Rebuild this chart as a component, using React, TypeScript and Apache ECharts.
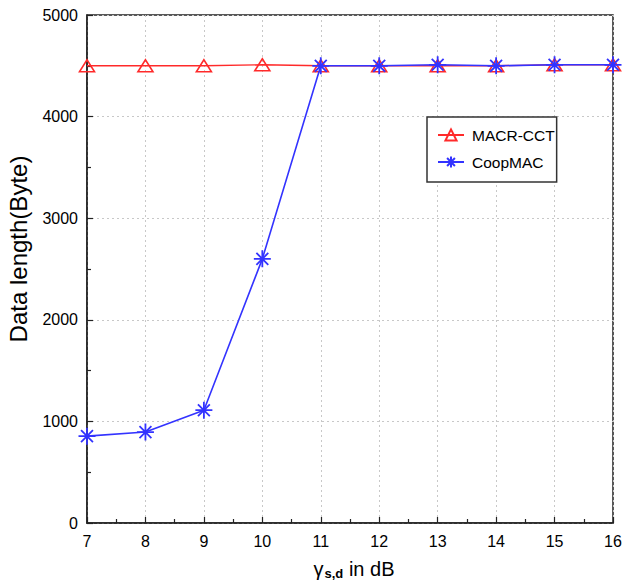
import React, { useEffect, useRef } from "react";
import * as echarts from "echarts";

const xValues = [7, 8, 9, 10, 11, 12, 13, 14, 15, 16];
const macrCct = [4500, 4500, 4500, 4510, 4500, 4500, 4500, 4500, 4510, 4510];
const coopMac = [855, 895, 1110, 2600, 4500, 4500, 4510, 4500, 4510, 4510];
const seriesNames = ["MACR-CCT", "CoopMAC"];
const yTitle = "Data length(Byte)";

const FONT = "'Liberation Sans', Arial, Helvetica, sans-serif";
const ASTERISK = "path://M0 10 L20 10 M10 0 L10 20 M3 3 L17 17 M17 3 L3 17";

export default function App() {
  const ref = useRef<HTMLDivElement>(null);
  useEffect(() => {
    if (!ref.current) return;
    const chart = echarts.init(ref.current, undefined, { renderer: "svg" });
    chart.setOption({
      animation: false,
      backgroundColor: "#ffffff",
      textStyle: { fontFamily: FONT },
      grid: {
        left: 87,
        right: 14,
        top: 15,
        bottom: 63,
        show: true,
        borderColor: "#222",
        borderWidth: 1.5,
      },
      graphic: [
        {
          type: "text",
          x: 18,
          y: 249,
          rotation: Math.PI / 2,
          style: {
            text: yTitle,
            fontSize: 24,
            fontFamily: FONT,
            fill: "#000",
            align: "center",
            verticalAlign: "middle",
          },
        },
      ],
      legend: {
        orient: "vertical",
        left: 427,
        top: 117,
        data: seriesNames,
        backgroundColor: "#fff",
        borderColor: "#333",
        borderWidth: 1.5,
        borderRadius: 0,
        padding: [10, 2, 12, 10],
        itemGap: 11,
        itemWidth: 26,
        itemHeight: 14,
        textStyle: { fontSize: 15.5, color: "#000", fontFamily: FONT, padding: [0, 0, 0, 3] },
      },
      xAxis: {
        type: "value",
        min: 7,
        max: 16,
        interval: 1,
        name: "{g|γ}{sub|s,d}{t| in dB}",
        nameLocation: "middle",
        nameGap: 34,
        nameTextStyle: {
          fontFamily: FONT,
          color: "#000",
          padding: [0, 0, 0, 8],
          rich: {
            g: { fontSize: 20, color: "#000", fontFamily: FONT },
            sub: { fontSize: 13, fontWeight: "bold", color: "#000", fontFamily: FONT, padding: [10, 0, 0, 1] },
            t: { fontSize: 20, color: "#000", fontFamily: FONT },
          },
        },
        axisLine: { show: true, lineStyle: { color: "#222", width: 1.5 } },
        axisTick: { show: true, inside: true, length: 6, lineStyle: { color: "#222", width: 1.2 } },
        minorTick: { show: true, splitNumber: 2, length: 4, lineStyle: { color: "#222", width: 1.2 } },
        axisLabel: { fontSize: 16, color: "#000", margin: 10, fontFamily: FONT },
        splitLine: { show: true, lineStyle: { color: "#c8c8c8", type: [2, 3], width: 1 } },
      },
      yAxis: {
        type: "value",
        min: 0,
        max: 5000,
        interval: 1000,
        axisLine: { show: true, lineStyle: { color: "#222", width: 1.5 } },
        axisTick: { show: true, inside: true, length: 6, lineStyle: { color: "#222", width: 1.2 } },
        minorTick: { show: true, splitNumber: 2, length: 4, lineStyle: { color: "#222", width: 1.2 } },
        axisLabel: {
          fontSize: 16,
          color: "#000",
          margin: 9,
          fontFamily: FONT,
          formatter: (v: number) => String(v),
        },
        splitLine: { show: true, lineStyle: { color: "#c8c8c8", type: [2, 3], width: 1 } },
      },
      series: [
        {
          name: seriesNames[0],
          type: "line",
          data: xValues.map((x, i) => [x, macrCct[i]]),
          symbol: "triangle",
          symbolSize: [15, 12],
          lineStyle: { color: "#ff2a2a", width: 1.4 },
          itemStyle: { color: "rgba(255,255,255,0)", borderColor: "#ff2a2a", borderWidth: 1.6 },
          z: 2,
        },
        {
          name: seriesNames[1],
          type: "line",
          data: xValues.map((x, i) => [x, coopMac[i]]),
          symbol: ASTERISK,
          symbolSize: 17,
          lineStyle: { color: "#3333ff", width: 1.6 },
          itemStyle: { color: "#3333ff", borderColor: "#3333ff", borderWidth: 1.8 },
          z: 3,
        },
      ],
    });
    return () => chart.dispose();
  }, []);
  return (
    <div
      ref={ref}
      style={{ position: "fixed", left: 0, top: 0, width: 627, height: 586, background: "#fff" }}
    />
  );
}
